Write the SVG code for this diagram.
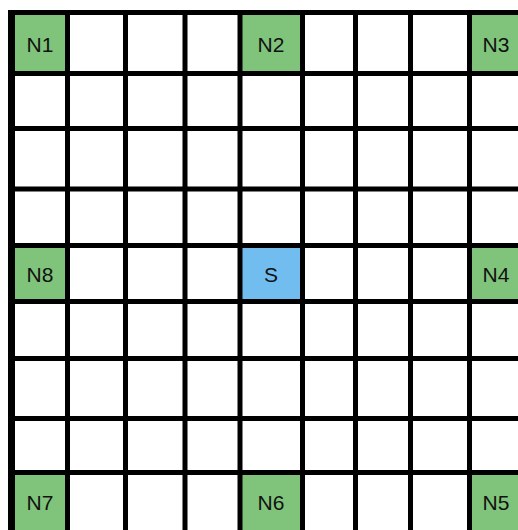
<svg xmlns="http://www.w3.org/2000/svg" width="518" height="530" viewBox="0 0 518 530">
<style>
.g{fill:#7fc47a}
.b{fill:#72bdf0}
.t{font-family:"Liberation Sans",Arial,sans-serif;font-size:21px;fill:#111;text-anchor:middle;dominant-baseline:central}
.ln{stroke:#000;stroke-width:5;fill:none}
</style>
<rect x="0" y="0" width="518" height="530" fill="#fff"/>
<g id="N1"><rect class="g" x="11.5" y="12.5" width="56" height="61"/><text class="t" x="40" y="44">N1</text></g>
<g id="N2"><rect class="g" x="240" y="12.5" width="62.5" height="61"/><text class="t" x="271" y="44">N2</text></g>
<g id="N3"><rect class="g" x="469.5" y="12.5" width="48.5" height="61"/><text class="t" x="496" y="44">N3</text></g>
<g id="N8"><rect class="g" x="11.5" y="245.5" width="56" height="56"/><text class="t" x="40" y="274">N8</text></g>
<g id="S"><rect class="b" x="240" y="245.5" width="62.5" height="56"/><text class="t" x="271" y="274">S</text></g>
<g id="N4"><rect class="g" x="469.5" y="245.5" width="48.5" height="56"/><text class="t" x="496" y="274">N4</text></g>
<g id="N7"><rect class="g" x="11.5" y="472.5" width="56" height="57.5"/><text class="t" x="40" y="502">N7</text></g>
<g id="N6"><rect class="g" x="240" y="472.5" width="62.5" height="57.5"/><text class="t" x="271" y="502">N6</text></g>
<g id="N5"><rect class="g" x="469.5" y="472.5" width="48.5" height="57.5"/><text class="t" x="496" y="502">N5</text></g>
<g id="connectors">
<path class="ln" d="M67.5 10V530M125.5 10V530M185 10V530M240 10V530M302.5 10V530M355.5 10V530M410.5 10V530M469.5 10V530"/>
<path class="ln" d="M8 73.5H518M8 128.5H518M8 189H518M8 245.5H518M8 301.5H518M8 358.5H518M8 418.5H518M8 472.5H518"/>
<path class="ln" d="M8 12.5H518"/>
<path stroke="#000" stroke-width="7" fill="none" d="M11.5 10V530"/>
</g>
</svg>
